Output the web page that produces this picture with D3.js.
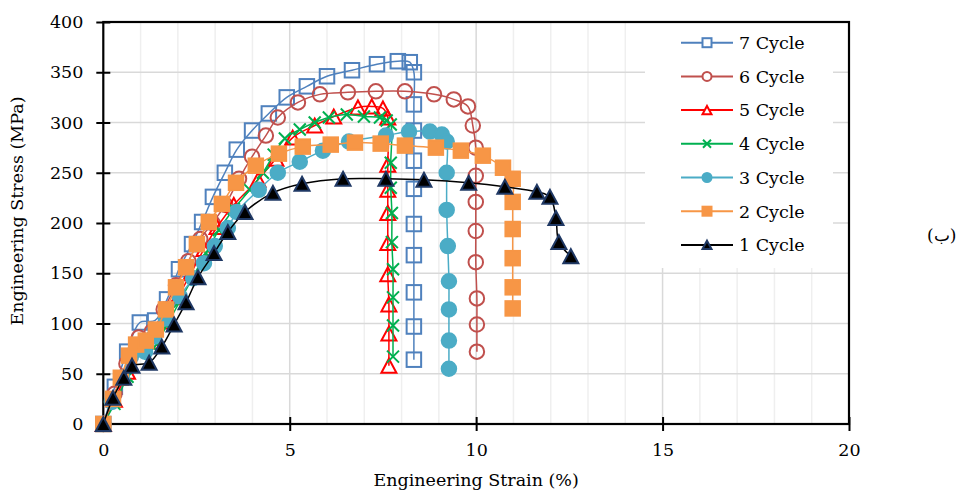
<!DOCTYPE html>
<html><head><meta charset="utf-8">
<script src="https://cdn.jsdelivr.net/npm/d3@7"></script>
<style>body{margin:0;background:#fff} text{font-family:"DejaVu Serif",serif;fill:#000}</style>
</head><body><svg id="c" width="961" height="495"></svg>
<script>
const xTicks=[0,5,10,15,20];
const yTicks=[0,50,100,150,200,250,300,350,400];
const seriesNames=["7 Cycle","6 Cycle","5 Cycle","4 Cycle","3 Cycle","2 Cycle","1 Cycle"];
const xTitle="Engineering Strain (%)";
const yTitle="Engineering Stress (MPa)";
const sideLabel="(ب)";

const cycle7=[[0,0],[0.31,37],[0.64,72],[0.98,101],[1.39,103],[1.71,124],[2.03,154],[2.38,179],[2.65,201],[2.94,226],[3.26,250],[3.58,273],[3.99,292],[4.44,309],[4.92,325],[5.46,336],[6.00,346],[6.67,352],[7.34,358],[7.90,361],[8.22,360],[8.33,350],[8.33,318],[8.33,292],[8.33,262],[8.33,234],[8.33,199],[8.33,168],[8.33,131],[8.33,97],[8.33,64]];
const cycle6=[[0,0],[0.3,30],[0.62,60],[0.95,86],[1.3,92],[1.62,114],[1.95,138],[2.28,162],[2.6,184],[2.93,200],[3.27,218],[3.64,244],[3.99,266],[4.36,287],[4.68,305],[5.22,320],[5.81,328],[6.56,330],[7.31,331],[8.09,331],[8.87,328],[9.40,323],[9.78,316],[9.91,297],[9.99,275],[9.99,247],[9.99,221],[9.99,192],[9.99,161],[10.02,125],[10.02,99],[10.02,72]];
const cycle5=[[0,0],[0.3,24],[0.65,52],[1.0,78],[1.3,82],[1.65,102],[2.0,126],[2.35,150],[2.7,174],[3.05,196],[3.5,218],[4.15,243],[4.63,264],[5.08,285],[5.67,297],[6.18,306],[6.83,315],[7.2,316],[7.5,314],[7.63,305],[7.63,258],[7.63,233],[7.63,210],[7.63,180],[7.63,149],[7.66,119],[7.66,90],[7.66,58]];
const cycle4=[[0,0],[0.3,20],[0.65,47],[0.98,70],[1.35,76],[1.7,98],[2.05,122],[2.4,146],[2.75,170],[3.1,193],[3.5,214],[3.93,233],[4.28,250],[4.57,268],[4.87,284],[5.27,293],[5.67,300],[6.05,305],[6.53,308],[6.99,306],[7.42,305],[7.6,302],[7.71,298],[7.71,260],[7.71,235],[7.74,210],[7.74,181],[7.77,154],[7.77,126],[7.77,98],[7.77,67]];
const cycle3=[[0,0],[0.23,22],[0.5,46],[0.74,67],[1.12,72],[1.36,87],[1.68,105],[2.05,127],[2.41,145],[2.70,160],[2.99,177],[3.34,195],[3.58,211],[4.17,233],[4.68,250],[5.27,261],[5.89,272],[6.59,281],[7.58,287],[8.2,291],[8.76,291],[9.08,288],[9.21,281],[9.21,250],[9.21,213],[9.24,177],[9.27,142],[9.27,114],[9.27,83],[9.27,55]];
const cycle2=[[0,0],[0.26,25],[0.47,46],[0.69,68],[0.88,79],[1.14,83],[1.41,94],[1.68,114],[1.95,136],[2.22,156],[2.51,179],[2.83,201],[3.18,219],[3.56,240],[4.09,257],[4.71,269],[5.35,276],[6.10,278],[6.75,280],[7.44,279],[8.09,277],[8.92,275],[9.59,272],[10.18,267],[10.72,255],[10.98,244],[10.98,221],[10.98,194],[10.98,165],[10.98,136],[10.98,115]];
const cycle1=[[0,0],[0.26,26],[0.55,46],[0.77,58],[1.23,61],[1.57,77],[1.90,99],[2.22,121],[2.54,146],[2.97,170],[3.34,191],[3.80,211],[4.55,230],[5.33,239],[6.43,244],[7.58,244],[8.60,243],[9.80,240],[10.77,236],[11.63,231],[11.98,226],[12.14,205],[12.22,181],[12.54,167]];

const seriesData=[cycle7,cycle6,cycle5,cycle4,cycle3,cycle2,cycle1];
const styles=[
  {line:"#4f81bd",stroke:"#4f81bd",fill:"none",shape:"square"},
  {line:"#c0504d",stroke:"#c0504d",fill:"none",shape:"circle"},
  {line:"#ff0000",stroke:"#ff0000",fill:"none",shape:"triangle"},
  {line:"#00b050",stroke:"#00b050",fill:"none",shape:"x"},
  {line:"#4bacc6",stroke:"#4bacc6",fill:"#4bacc6",shape:"circle"},
  {line:"#f79646",stroke:"#f79646",fill:"#f79646",shape:"square"},
  {line:"#000000",stroke:"#1f3864",fill:"#000000",shape:"triangle"}
];

const FS=17.5;
const svg=d3.select("#c");
const L=103.3,R=849,T=22,B=424;
const x=d3.scaleLinear().domain([0,20]).range([L,R]);
const y=d3.scaleLinear().domain([0,400]).range([B,T]);

// gridlines
const g=svg.append("g");
g.selectAll(".vmin").data(d3.range(1,20).filter(v=>v%5!==0)).join("line")
  .attr("x1",d=>x(d)).attr("x2",d=>x(d)).attr("y1",T).attr("y2",B)
  .attr("stroke","#efefef").attr("stroke-width",1.5);
g.selectAll(".vmaj").data(xTicks.filter(v=>v>0&&v<20)).join("line")
  .attr("x1",d=>x(d)).attr("x2",d=>x(d)).attr("y1",T).attr("y2",B)
  .attr("stroke","#d9d9d9").attr("stroke-width",1.5);
g.selectAll(".hmaj").data(yTicks.filter(v=>v>0&&v<400)).join("line")
  .attr("x1",L).attr("x2",R).attr("y1",d=>y(d)).attr("y2",d=>y(d))
  .attr("stroke","#d9d9d9").attr("stroke-width",1.5);

// legend background
const legX=645,legY=23,legW=188,legH=245;
svg.append("rect").attr("x",legX).attr("y",legY).attr("width",legW).attr("height",legH).attr("fill","#fff");

// axes
const ax=svg.append("g").attr("transform",`translate(0,${B})`)
  .call(d3.axisBottom(x).tickValues(xTicks).tickSize(7).tickPadding(13).tickFormat(d3.format("d")));
ax.select(".domain").remove();
ax.selectAll(".tick line").attr("y1",-7).attr("stroke","#000").attr("stroke-width",2);
ax.selectAll("text").attr("font-size",FS).attr("font-family","DejaVu Serif");
const ay=svg.append("g").attr("transform",`translate(${L},0)`)
  .call(d3.axisLeft(y).tickValues(yTicks).tickSize(7).tickPadding(13).tickFormat(d3.format("d")));
ay.select(".domain").remove();
ay.selectAll(".tick line").attr("x1",7).attr("stroke","#000").attr("stroke-width",2);
ay.selectAll("text").attr("font-size",FS).attr("font-family","DejaVu Serif");

svg.append("rect").attr("x",L).attr("y",T).attr("width",R-L).attr("height",B-T)
  .attr("fill","none").attr("stroke","#000").attr("stroke-width",2.2);

function marker(sel,shape,size){
  const s=size/2;
  if(shape==="square") return sel.append("rect").attr("x",-s).attr("y",-s).attr("width",size).attr("height",size);
  if(shape==="circle") return sel.append("circle").attr("r",s);
  if(shape==="triangle"){const h=size*0.93;return sel.append("path").attr("d",`M0,${-h/2}L${s},${h/2}L${-s},${h/2}Z`);}
  return sel.append("path").attr("d",`M${-s},${-s}L${s},${s}M${-s},${s}L${s},${-s}`);
}

const line=d3.line().x(d=>x(d[0])).y(d=>y(d[1])).curve(d3.curveCatmullRom.alpha(0.5));
const plot=svg.append("g");
seriesData.forEach((data,i)=>{
  const st=styles[i];
  const sg=plot.append("g");
  sg.append("path").attr("d",line(data)).attr("fill","none").attr("stroke",st.line).attr("stroke-width",1.5);
  const size=st.shape==="x"?12:(st.shape==="triangle"?15:14.5);
  sg.selectAll("g.m").data(data).join("g").attr("class","m")
    .attr("transform",d=>`translate(${x(d[0])},${y(d[1])})`)
    .each(function(){
      marker(d3.select(this),st.shape,size).attr("fill",st.fill).attr("stroke",st.stroke).attr("stroke-width",2);
    });
});

// legend
const leg=svg.append("g");
seriesNames.forEach((n,i)=>{
  const st=styles[i];
  const cy=42.7+i*33.7;
  leg.append("line").attr("x1",681).attr("x2",733).attr("y1",cy).attr("y2",cy).attr("stroke",st.line).attr("stroke-width",2);
  const mg=leg.append("g").attr("transform",`translate(707,${cy})`);
  marker(mg,st.shape,st.shape==="x"?8:9).attr("fill",st.fill==="none"?"#fff":st.fill).attr("stroke",st.stroke).attr("stroke-width",2);
  leg.append("text").attr("x",739).attr("y",cy).attr("dy","0.36em").attr("font-size",FS).text(n);
});

// titles
svg.append("text").attr("x",(L+R)/2).attr("y",486).attr("text-anchor","middle").attr("font-size",FS).text(xTitle);
svg.append("text").attr("transform","translate(23,211) rotate(-90)").attr("text-anchor","middle").attr("font-size",FS).text(yTitle);
svg.append("text").attr("x",927).attr("y",241).attr("font-size",17)
  .attr("font-family","DejaVu Sans").attr("direction","ltr").attr("unicode-bidi","bidi-override")
  .style("unicode-bidi","bidi-override").style("direction","ltr").text(sideLabel);
</script></body></html>
